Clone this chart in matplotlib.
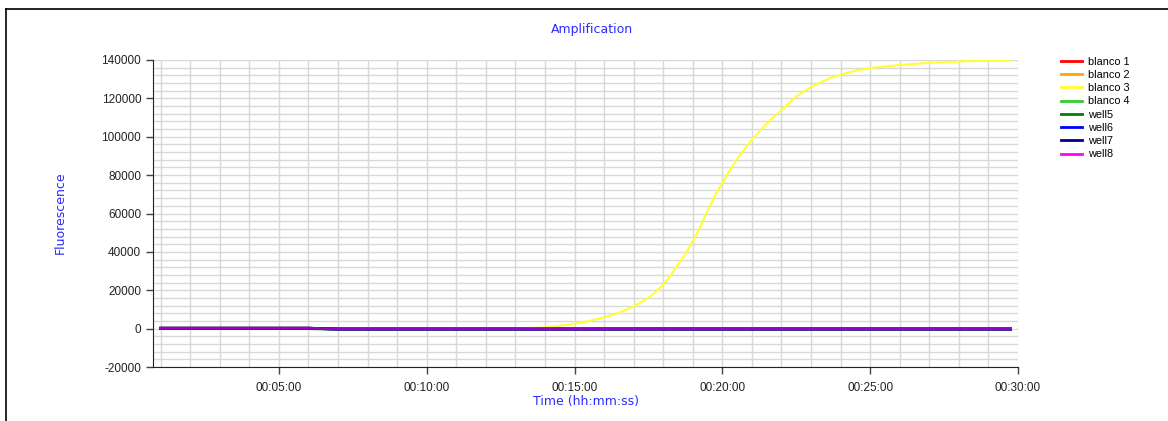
#!/usr/bin/env python3

import matplotlib

matplotlib.use("Agg")

import matplotlib.pyplot as plt
from matplotlib.lines import Line2D
from matplotlib.ticker import FuncFormatter, MultipleLocator


OUTPUT_PNG = "out.png"

# time in minutes
TIME = [
    1.0, 2.0, 3.0, 4.0, 5.0, 6.0, 7.0, 8.0, 9.0, 10.0, 11.0, 12.0, 13.0,
    13.5, 14.0, 14.5, 15.0, 15.5, 16.0, 16.5, 17.0, 17.5, 17.75, 18.0,
    18.25, 18.5, 18.75, 19.0, 19.25, 19.5, 19.75, 20.0, 20.25, 20.5,
    21.0, 21.5, 22.0, 22.5, 23.0, 23.5, 24.0, 24.5, 25.0, 26.0, 27.0,
    28.0, 29.0, 29.75,
]

BLANCO_3 = [
    0, 0, 0, 0, 0, 0, 0, 0, 0, 0, 0, 50, 100,
    300, 700, 1500, 2600, 4000, 5900, 8300, 11600, 16000, 19200, 23000,
    27800, 33500, 39000, 45500, 53000, 61500, 69500, 76000, 82500, 88500,
    98500, 107000, 114000, 121000, 126000, 129700, 132400, 134400, 135800,
    137400, 138500, 139200, 139700, 140000,
]

FLAT_HIGH = [200] * 6 + [-200] * 42
FLAT_LOW = [0] * 6 + [-500] * 42

SERIES = [
    ("blanco 1", FLAT_HIGH, "#ff0000"),
    ("blanco 2", FLAT_HIGH, "#ffa500"),
    ("blanco 3", BLANCO_3, "#ffff33"),
    ("blanco 4", FLAT_LOW, "#32cd32"),
    ("well5", FLAT_HIGH, "#008000"),
    ("well6", FLAT_HIGH, "#0000ff"),
    ("well7", FLAT_HIGH, "#000080"),
    ("well8", FLAT_HIGH, "#ff00ff"),
]

LABEL_BLUE = "#2a2aff"


def time_label(value, position):
    seconds = int(round(value * 60))
    return (
        f"{seconds // 3600:02d}:"
        f"{(seconds % 3600) // 60:02d}:"
        f"{seconds % 60:02d}"
    )


def create_plot() -> None:
    plt.rcParams["font.family"] = ["Liberation Sans", "DejaVu Sans"]
    plt.rcParams["axes.unicode_minus"] = False

    figure = plt.figure(figsize=(11.68, 4.21), dpi=100)

    axis = figure.add_axes([
        153 / 1168,
        1 - 367 / 421,
        (1018 - 153) / 1168,
        (367 - 60) / 421,
    ])

    for name, values, colour in SERIES:
        flat = name != "blanco 3"
        axis.plot(
            TIME,
            values,
            color=colour,
            linewidth=2.0 if flat else 1.5,
            alpha=0.6 if name == "well8" else 1.0,
            label=name,
            zorder=3,
        )

    axis.set_xlim(0.74, 30)
    axis.set_ylim(-20000, 140000)

    axis.xaxis.set_major_locator(MultipleLocator(5))
    axis.xaxis.set_minor_locator(MultipleLocator(1))
    axis.xaxis.set_major_formatter(FuncFormatter(time_label))
    axis.yaxis.set_major_locator(MultipleLocator(20000))
    axis.yaxis.set_minor_locator(MultipleLocator(4000))

    axis.grid(which="both", color="#d8d8d8", linewidth=1.0, zorder=0)
    axis.set_axisbelow(True)

    axis.tick_params(
        axis="both",
        which="major",
        labelsize=8.5,
        length=5,
        width=1,
        color="#444444",
        labelcolor="#222222",
    )
    axis.tick_params(axis="both", which="minor", length=0)
    axis.tick_params(axis="x", which="major", pad=6)

    axis.spines["top"].set_visible(False)
    axis.spines["right"].set_visible(False)
    axis.spines["left"].set_color("#222222")
    axis.spines["bottom"].set_color("#222222")

    label_font = {
        "family": "DejaVu Sans",
        "size": 9,
        "color": LABEL_BLUE,
    }

    figure.text(
        592 / 1168,
        1 - 29 / 421,
        "Amplification",
        fontdict=label_font,
        ha="center",
        va="center",
    )

    figure.text(
        586 / 1168,
        1 - 401 / 421,
        "Time (hh:mm:ss)",
        fontdict=label_font,
        ha="center",
        va="center",
    )

    figure.text(
        60 / 1168,
        1 - 213 / 421,
        "Fluorescence",
        fontdict=label_font,
        rotation=90,
        ha="center",
        va="center",
    )

    handles, labels = axis.get_legend_handles_labels()
    legend = figure.legend(
        handles,
        labels,
        loc="upper left",
        bbox_to_anchor=(1053 / 1168, 1 - 49 / 421),
        frameon=False,
        fontsize=7.8,
        handlelength=2.0,
        handletextpad=0.5,
        labelspacing=0.3,
        borderpad=0.2,
    )
    for line in legend.get_lines():
        line.set_alpha(1.0)
        line.set_linewidth(2.0)

    # window frame on left and top
    figure.add_artist(Line2D(
        [6 / 1168, 6 / 1168], [0, 1 - 9 / 421],
        transform=figure.transFigure, color="black", linewidth=1.2,
    ))
    figure.add_artist(Line2D(
        [6 / 1168, 1], [1 - 9 / 421, 1 - 9 / 421],
        transform=figure.transFigure, color="black", linewidth=1.2,
    ))

    figure.savefig(OUTPUT_PNG, dpi=100)
    plt.close(figure)


def main() -> None:
    create_plot()


if __name__ == "__main__":
    main()
